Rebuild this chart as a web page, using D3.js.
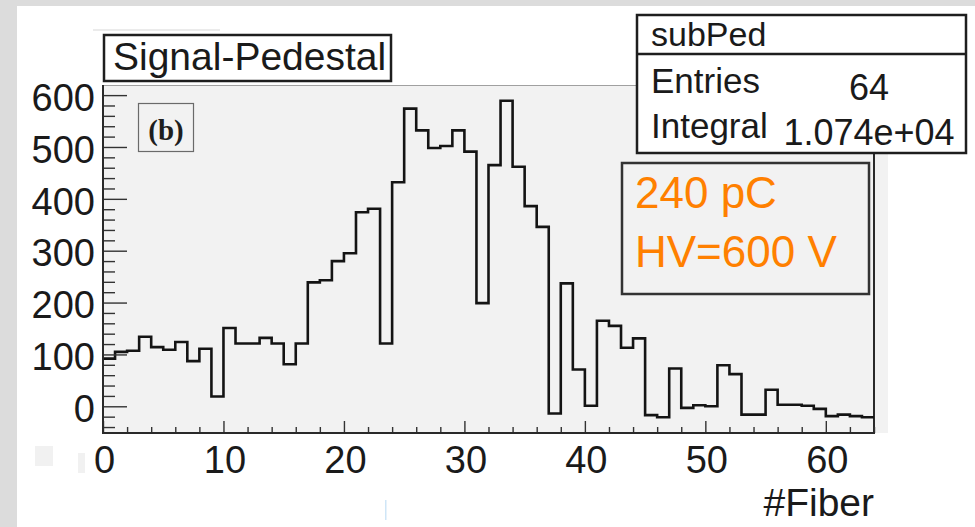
<!DOCTYPE html>
<html>
<head>
<meta charset="utf-8">
<script src="https://cdn.jsdelivr.net/npm/d3@7/dist/d3.min.js"></script>
<style>
  html, body { margin: 0; padding: 0; background: #ffffff; }
  svg { display: block; font-family: "Liberation Sans", Arial, Helvetica, sans-serif; }
</style>
</head>
<body>
<script>
// Signal minus pedestal per fiber (64 channels)
const fiberIndex = d3.range(64);
const fiberValues = [
  92, 105, 107, 134, 114, 109, 124, 87, 111, 19,
  151, 121, 121, 132, 121, 81, 121, 239, 243, 280,
  295, 374, 381, 121, 432, 574, 532, 498, 502, 532,
  491, 199, 465, 589, 462, 386, 346, -14, 237, 71,
  1, 165, 155, 113, 131, -17, -21, 73, -3, 2,
  0, 79, 62, -16, -16, 32, 3, 3, 1, -5,
  -19, -16, -19, -21
];

const xDomain = [0, 64];
const yDomain = [-51.5, 619.5];
const xMajorTicks = [0, 10, 20, 30, 40, 50, 60];
const xMinorTicks = d3.range(0, 65, 2).filter(v => v % 10 !== 0);
const yMajorTicks = [0, 100, 200, 300, 400, 500, 600];
const yMinorTicks = d3.range(-40, 620, 20).filter(v => v % 100 !== 0);

const histTitle = "Signal-Pedestal";
const panelTag = "(b)";
const statsName = "subPed";
const statsLabels = ["Entries", "Integral"];
const statsValues = ["64", "1.074e+04"];
const noteLines = ["240 pC", "HV=600 V"];
const xTitle = "#Fiber";

const W = 975, H = 527;
const frame = { left: 103, right: 874, top: 85, bottom: 433 };
const sans = '"Liberation Sans", Arial, Helvetica, sans-serif';
const serif = '"Liberation Serif", "Times New Roman", Times, serif';

const svg = d3.select("body").append("svg")
  .attr("width", W).attr("height", H);

// page background and canvas
svg.append("rect").attr("width", W).attr("height", H).attr("fill", "#dcdcdc");
svg.append("rect").attr("x", 17).attr("y", 6).attr("width", W - 17).attr("height", H - 6).attr("fill", "#ffffff");

// faint marks on the canvas
svg.append("line").attr("x1", 93).attr("x2", 220).attr("y1", 30).attr("y2", 30)
  .attr("stroke", "#e4e4e4").attr("stroke-width", 1.5);
svg.append("rect").attr("x", 35).attr("y", 446).attr("width", 18).attr("height", 20).attr("fill", "#f1f1f1");
svg.append("rect").attr("x", 78).attr("y", 453).attr("width", 7).attr("height", 20).attr("fill", "#f1f1f1");
svg.append("rect").attr("x", 385).attr("y", 500).attr("width", 1.5).attr("height", 20).attr("fill", "#cfe6f7");

const x = d3.scaleLinear().domain(xDomain).range([frame.left, frame.right]);
const y = d3.scaleLinear().domain(yDomain).range([frame.bottom, frame.top]);

// plot area fill
svg.append("rect")
  .attr("x", frame.left).attr("y", frame.top)
  .attr("width", 888 - frame.left).attr("height", frame.bottom - frame.top)
  .attr("fill", "#f2f2f2");

// top frame line (light) and right frame line
svg.append("line").attr("x1", frame.left).attr("x2", frame.right)
  .attr("y1", frame.top + 0.5).attr("y2", frame.top + 0.5)
  .attr("stroke", "#a0a0a0").attr("stroke-width", 1);
svg.append("line").attr("x1", frame.right).attr("x2", frame.right)
  .attr("y1", frame.top).attr("y2", frame.bottom)
  .attr("stroke", "#2a2a2a").attr("stroke-width", 2);

// histogram outline as steps
const stepPts = [];
fiberIndex.forEach(i => {
  stepPts.push([i, fiberValues[i]]);
  stepPts.push([i + 1, fiberValues[i]]);
});
const line = d3.line().x(d => x(d[0])).y(d => y(d[1]));
svg.append("path")
  .attr("d", line(stepPts))
  .attr("fill", "none")
  .attr("stroke", "#141414")
  .attr("stroke-width", 2.6)
  .attr("stroke-linejoin", "miter");

// axes
const tickColor = "#333333";
const gx = svg.append("g").attr("transform", `translate(0,${frame.bottom})`);
gx.append("g").call(d3.axisBottom(x).tickValues(xMinorTicks).tickSize(-6).tickFormat(""));
gx.append("g").call(d3.axisBottom(x).tickValues(xMajorTicks).tickSize(-12).tickPadding(13).tickFormat(d3.format("d")));
gx.selectAll(".domain").remove();
gx.selectAll("line").attr("stroke", tickColor).attr("stroke-width", 1.4);
gx.selectAll("text").attr("font-size", 38).attr("fill", "#1a1a1a")
  .style("font-family", sans).attr("dx", 1);

const gy = svg.append("g").attr("transform", `translate(${frame.left},0)`);
gy.append("g").call(d3.axisLeft(y).tickValues(yMinorTicks).tickSize(-12).tickFormat(""));
gy.append("g").call(d3.axisLeft(y).tickValues(yMajorTicks).tickSize(-24).tickPadding(8).tickFormat(d3.format("d")));
gy.selectAll(".domain").remove();
gy.selectAll("line").attr("stroke", tickColor).attr("stroke-width", 1.4);
gy.selectAll("text").attr("font-size", 38).attr("fill", "#1a1a1a")
  .style("font-family", sans).attr("dy", "0.4em");

// axis lines
svg.append("line").attr("x1", frame.left).attr("x2", frame.left)
  .attr("y1", frame.top).attr("y2", frame.bottom)
  .attr("stroke", "#2a2a2a").attr("stroke-width", 2);
svg.append("line").attr("x1", frame.left - 1).attr("x2", frame.right + 1)
  .attr("y1", frame.bottom).attr("y2", frame.bottom)
  .attr("stroke", "#2a2a2a").attr("stroke-width", 2);

// x-axis title
svg.append("text").attr("x", frame.right).attr("y", 516)
  .attr("text-anchor", "end").attr("font-size", 39).attr("fill", "#1a1a1a")
  .style("font-family", sans).text(xTitle);

// panel tag box
svg.append("rect").attr("x", 138.5).attr("y", 103.5).attr("width", 55).attr("height", 48)
  .attr("fill", "none").attr("stroke", "#6a6a6a").attr("stroke-width", 1.2);
svg.append("text").attr("x", 166).attr("y", 140)
  .attr("text-anchor", "middle").attr("font-size", 29).attr("font-weight", "bold")
  .style("font-family", serif)
  .attr("fill", "#1e1e1e").text(panelTag);

// histogram title box
svg.append("rect").attr("x", 104).attr("y", 35).attr("width", 287).attr("height", 46)
  .attr("fill", "#ffffff").attr("stroke", "#1e1e1e").attr("stroke-width", 2.5);
svg.append("text").attr("x", 113).attr("y", 70)
  .attr("font-size", 39).attr("fill", "#1a1a1a").style("font-family", sans).text(histTitle);

// statistics box
const sb = { x: 637, y: 15, w: 329, h: 138, div: 54 };
svg.append("rect").attr("x", sb.x).attr("y", sb.y).attr("width", sb.w).attr("height", sb.h)
  .attr("fill", "#ffffff").attr("stroke", "#1e1e1e").attr("stroke-width", 2.5);
svg.append("line").attr("x1", sb.x).attr("x2", sb.x + sb.w).attr("y1", sb.div).attr("y2", sb.div)
  .attr("stroke", "#1e1e1e").attr("stroke-width", 2.5);
svg.append("text").attr("x", 651).attr("y", 46).attr("font-size", 34)
  .attr("fill", "#1a1a1a").style("font-family", sans).text(statsName);
const rowBase = [93, 138];
const valBase = [100, 145];
statsLabels.forEach((lab, i) => {
  svg.append("text").attr("x", 651).attr("y", rowBase[i]).attr("font-size", 35)
    .attr("fill", "#1a1a1a").style("font-family", sans).text(lab);
  svg.append("text").attr("x", 869).attr("y", valBase[i]).attr("font-size", 36)
    .attr("text-anchor", "middle").attr("fill", "#1a1a1a").style("font-family", sans).text(statsValues[i]);
});

// annotation box
svg.append("rect").attr("x", 622).attr("y", 163).attr("width", 247).attr("height", 131)
  .attr("fill", "#f2f2f2").attr("stroke", "#333333").attr("stroke-width", 2.5);
const noteBase = [208, 267];
noteLines.forEach((t, i) => {
  svg.append("text").attr("x", 635).attr("y", noteBase[i]).attr("font-size", 44)
    .attr("fill", "#ff8000").style("font-family", sans).text(t);
});
</script>
</body>
</html>
